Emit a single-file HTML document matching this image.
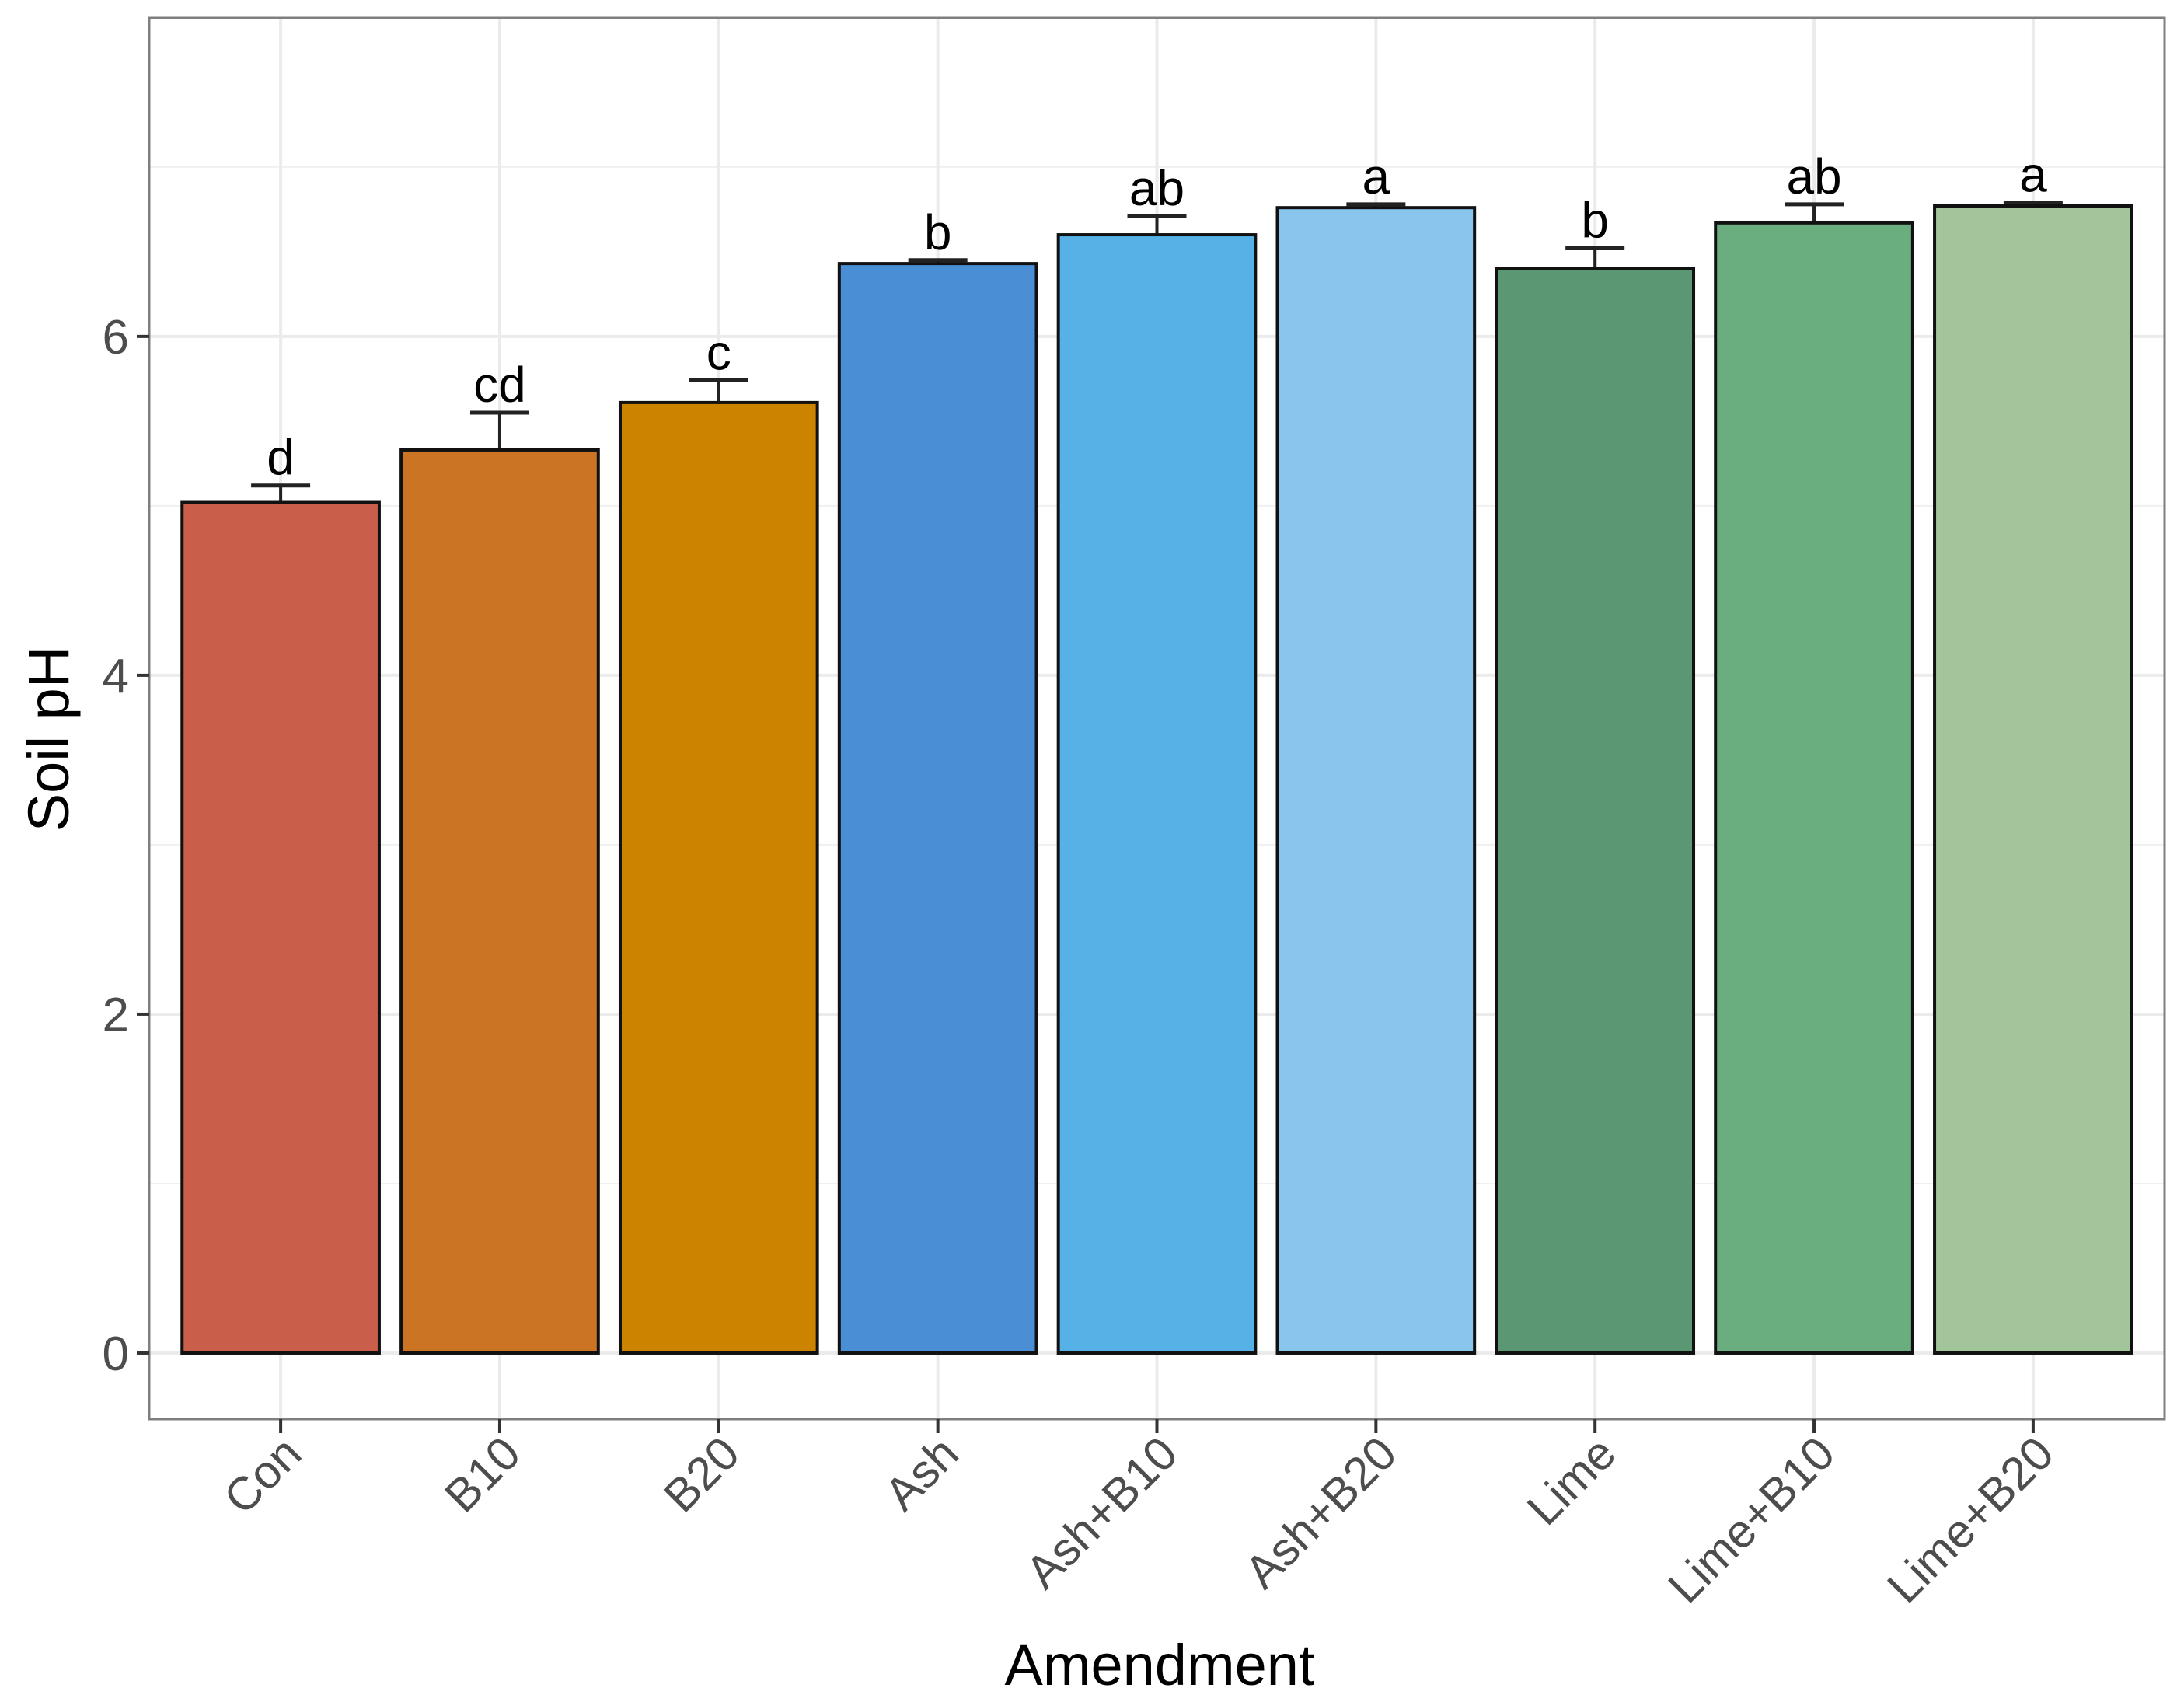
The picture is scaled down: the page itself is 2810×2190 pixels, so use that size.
<!DOCTYPE html>
<html><head><meta charset="utf-8"><style>
html,body{margin:0;padding:0;background:#fff;}
svg{display:block;font-family:"Liberation Sans",Arial,sans-serif;}
</style></head><body>
<svg id="chart" width="2810" height="2190" viewBox="0 0 2810 2190" xmlns="http://www.w3.org/2000/svg">
<rect x="0" y="0" width="2810" height="2190" fill="#fff"/>
<g id="grid"></g>
<g id="bars"></g>
<g id="labels"></g>
<rect x="192" y="23" width="2593" height="1803" fill="none" stroke="#7f7f7f" stroke-width="3"/>
<g id="axes"></g>
<text x="1492" y="2168" font-size="74" text-anchor="middle" fill="#000">Amendment</text>
<text x="0" y="0" font-size="74" text-anchor="middle" fill="#000" transform="translate(88,951) rotate(-90)">Soil pH</text>
</svg>
<script>
const categories = ["Con","B10","B20","Ash","Ash+B10","Ash+B20","Lime","Lime+B10","Lime+B20"];
const means = [5.02,5.33,5.61,6.43,6.60,6.76,6.40,6.67,6.77];
const errors = [0.10,0.22,0.13,0.02,0.11,0.02,0.12,0.11,0.02];
const letters = ["d","cd","c","b","ab","a","b","ab","a"];
const colors = ["#c95e4b","#cb7524","#cc8400","#4a8fd6","#56b2e6","#8ac5ee","#5c9773","#6aad7f","#a3c59b"];
const yTicks = [0,2,4,6];
const yMinor = [1,3,5,7];

const NS="http://www.w3.org/2000/svg";
const panelL=192, panelR=2785, panelT=23, panelB=1826;
const yMin=-0.39, yMax=7.88;
function yScale(v){return panelB-(v-yMin)/(yMax-yMin)*(panelB-panelT);}
const step=(panelR-panelL)/(categories.length+0.2);
function xScale(i){return panelL+step*(0.6+i);}
const barW=step*0.9;
function mk(tag,attrs,parent){const e=document.createElementNS(NS,tag);for(const k in attrs)e.setAttribute(k,attrs[k]);parent.appendChild(e);return e;}
const grid=document.getElementById('grid'),bars=document.getElementById('bars'),labels=document.getElementById('labels'),axes=document.getElementById('axes');

yMinor.forEach(v=>{const l=mk('line',{x1:panelL,x2:panelR,y1:yScale(v),y2:yScale(v),stroke:'#f0f0f0','stroke-width':2},grid);

});
yTicks.forEach(v=>{const l=mk('line',{x1:panelL,x2:panelR,y1:yScale(v),y2:yScale(v),stroke:'#ebebeb','stroke-width':4},grid);

});
categories.forEach((c,i)=>{const l=mk('line',{x1:xScale(i),x2:xScale(i),y1:panelT,y2:panelB,stroke:'#ebebeb','stroke-width':4},grid);

});

categories.forEach((c,i)=>{
  const cx=xScale(i), top=yScale(means[i]), base=yScale(0);
  const et=yScale(means[i]+errors[i]);
  const eb=mk('line',{x1:cx,x2:cx,y1:top,y2:et,stroke:'#222','stroke-width':4},bars);
  
  
  const cap=mk('line',{x1:cx-38,x2:cx+38,y1:et,y2:et,stroke:'#222','stroke-width':5},bars);
  
  
  const r=mk('rect',{x:cx-barW/2,y:top,width:barW,height:base-top,fill:colors[i],stroke:'#111','stroke-width':4},bars);
  
  
  const t=mk('text',{x:cx,y:et-14,'font-size':64,'text-anchor':'middle',fill:'#000'},labels);
  t.textContent=letters[i];
  
  
  const tk=mk('line',{x1:cx,x2:cx,y1:panelB,y2:panelB+18,stroke:'#333','stroke-width':4},axes);
  
  
  const xl=mk('text',{x:0,y:0,'font-size':60,'text-anchor':'end',fill:'#4d4d4d',transform:`translate(${cx+30},${panelB+48}) rotate(-45)`},axes);
  xl.textContent=c;
  
  
});
yTicks.forEach(v=>{
  const y=yScale(v);
  const tk=mk('line',{x1:panelL-16,x2:panelL,y1:y,y2:y,stroke:'#333','stroke-width':4},axes);
  
  
  const t=mk('text',{x:panelL-26,y:y+22,'font-size':62,'text-anchor':'end',fill:'#4d4d4d'},axes);
  t.textContent=v;
  
  
});
</script>
</body></html>
